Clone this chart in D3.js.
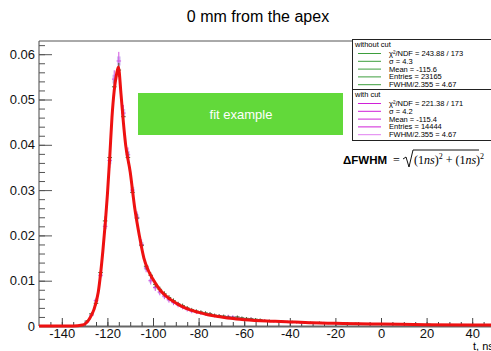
<!DOCTYPE html>
<html>
<head>
<meta charset="utf-8">
<script src="https://cdn.jsdelivr.net/npm/d3@7"></script>
<style>
  body { margin: 0; background: #fff; }
  svg { display: block; font-family: "Liberation Sans", Arial, sans-serif; }
</style>
</head>
<body>
<div id="chart"></div>
<script>
// 1. Data
// bin centers, 2 ns wide bins
const binCenters = d3.range(-149, 50, 2);

// without cut (density per ns)
const withoutCut = [
  0, 0, 0, 0, 0, 0, 0, 0, 0,
  0.0003, 0.0011, 0.0027, 0.0050, 0.0118, 0.0232, 0.0372, 0.0528, 0.0565, 0.0462,
  0.0372, 0.0295, 0.0238, 0.0178, 0.0132, 0.0112, 0.0092, 0.0081, 0.0071, 0.0063,
  0.0056, 0.0049, 0.0045, 0.0040, 0.0036, 0.0033, 0.0031, 0.0029, 0.0027, 0.0024,
  0.0023, 0.0022, 0.0020, 0.0019, 0.0020, 0.0018, 0.0017, 0.0016, 0.0015, 0.0014,
  0.0012, 0.0012, 0.0011, 0.0010, 0.0010, 0.0009, 0.0010, 0.0008, 0.0009, 0.0007,
  0.0008, 0.0007, 0.0008, 0.0006, 0.0007, 0.0006, 0.0007, 0.0005, 0.0006, 0.0005,
  0.0006, 0.0004, 0.0005, 0.0005, 0.0004, 0.0005, 0.0004, 0.0004, 0.0005, 0.0003,
  0.0004, 0.0004, 0.0003, 0.0004, 0.0003, 0.0003, 0.0004, 0.0003, 0.0002, 0.0003,
  0.0003, 0.0002, 0.0003, 0.0002, 0.0002, 0.0003, 0.0002, 0.0002, 0.0002, 0.0002,
  0.0002
];

// with cut
const withCut = [
  0, 0, 0, 0, 0, 0, 0, 0, 0,
  0.0002, 0.0009, 0.0024, 0.0056, 0.0112, 0.0220, 0.0365, 0.0545, 0.0585, 0.0470,
  0.0378, 0.0300, 0.0240, 0.0180, 0.0128, 0.0100, 0.0085, 0.0075, 0.0066, 0.0058,
  0.0052, 0.0047, 0.0042, 0.0037, 0.0033, 0.0031, 0.0029, 0.0027, 0.0026, 0.0023,
  0.0022, 0.0021, 0.0021, 0.0020, 0.0019, 0.0017, 0.0016, 0.0016, 0.0014, 0.0013,
  0.0012, 0.0011, 0.0010, 0.0010, 0.0009, 0.0009, 0.0008, 0.0008, 0.0007, 0.0008,
  0.0007, 0.0006, 0.0007, 0.0007, 0.0006, 0.0006, 0.0005, 0.0006, 0.0005, 0.0005,
  0.0004, 0.0005, 0.0004, 0.0005, 0.0004, 0.0004, 0.0004, 0.0003, 0.0004, 0.0004,
  0.0003, 0.0003, 0.0004, 0.0003, 0.0003, 0.0002, 0.0003, 0.0003, 0.0002, 0.0002,
  0.0003, 0.0002, 0.0002, 0.0002, 0.0003, 0.0002, 0.0002, 0.0001, 0.0002, 0.0002,
  0.0002
];

// fit curve samples
const fitT = [-150, -135, -131, -128, -126, -124, -122, -120, -119, -118, -117, -116,
  -115.2, -114, -113, -112, -110, -108, -106, -104, -102, -100, -97, -94, -91, -88,
  -84, -80, -76, -70, -66, -60, -50, -44, -30, -20, -10, 0, 20, 40, 50];
const fitV = [0, 0, 0.0002, 0.0015, 0.0035, 0.0075, 0.0165, 0.029, 0.037, 0.046, 0.052,
  0.0555, 0.0572, 0.051, 0.045, 0.040, 0.034, 0.026, 0.020, 0.0150, 0.0122, 0.0103,
  0.0080, 0.0065, 0.0054, 0.0045, 0.0036, 0.0030, 0.0025, 0.0020, 0.0017, 0.0014,
  0.0011, 0.0010, 0.0007, 0.0006, 0.0005, 0.00044, 0.0003, 0.00022, 0.0002];

const legendWithout = ["χ²/NDF = 243.88 / 173", "σ = 4.3", "Mean = -115.6", "Entries = 23165", "FWHM/2.355 = 4.67"];
const legendWith = ["χ²/NDF = 221.38 / 171", "σ = 4.2", "Mean = -115.4", "Entries = 14444", "FWHM/2.355 = 4.67"];
const entriesWithout = 23165;
const entriesWith = 14444;

const xTicks = [-140, -120, -100, -80, -60, -40, -20, 0, 20, 40];
const yTicks = [0, 0.01, 0.02, 0.03, 0.04, 0.05, 0.06];

// 2. Dimensions
const dims = { width: 491, height: 351, left: 39, top: 41, right: 495, bottom: 326 };

// 3. Container
const svg = d3.select("#chart").append("svg")
  .attr("width", dims.width).attr("height", dims.height);

// 4. Scales
const xScale = d3.scaleLinear().domain([-150, 50]).range([dims.left, dims.right]);
const yScale = d3.scaleLinear().domain([0, 0.01]).range([dims.bottom, dims.bottom - 45.3]);

// title
svg.append("text").attr("x", 258).attr("y", 22).attr("text-anchor", "middle")
  .style("font-size", "16px").text("0 mm from the apex");

// frame top
svg.append("line").attr("x1", dims.left).attr("x2", dims.right)
  .attr("y1", dims.top).attr("y2", dims.top).attr("stroke", "#555");

// 5. Axes
const yAxis = svg.append("g").attr("transform", `translate(${dims.left},0)`)
  .call(d3.axisLeft(yScale).tickValues(yTicks).tickSizeInner(-13).tickSizeOuter(0)
    .tickPadding(4).tickFormat((d) => (d === 0 ? "0" : d3.format(".2f")(d))));
yAxis.select(".domain").attr("d", `M0,${dims.top}V${dims.bottom}`).attr("stroke", "#444");
yAxis.selectAll(".tick line").attr("stroke", "#555");
yAxis.selectAll("text").style("font-size", "13px").attr("fill", "#111");

svg.append("g").attr("transform", `translate(${dims.left},0)`)
  .call(d3.axisLeft(yScale).tickValues(d3.range(0, 0.0621, 0.002)).tickSizeInner(-6)
    .tickSizeOuter(0).tickFormat(""))
  .call((g) => g.select(".domain").remove())
  .selectAll("line").attr("stroke", "#555");

const xAxis = svg.append("g").attr("transform", `translate(0,${dims.bottom})`)
  .call(d3.axisBottom(xScale).tickValues(xTicks).tickSizeInner(-8).tickSizeOuter(0)
    .tickPadding(3).tickFormat((d) => (d < 0 ? "-" + Math.abs(d) : d)));
xAxis.select(".domain").attr("stroke", "#666").attr("stroke-width", 2);
xAxis.selectAll(".tick line").attr("stroke", "#444");
xAxis.selectAll("text").style("font-size", "13px").attr("fill", "#111");

svg.append("g").attr("transform", `translate(0,${dims.bottom})`)
  .call(d3.axisBottom(xScale).tickValues(d3.range(-145, 50, 5)).tickSizeInner(-4)
    .tickSizeOuter(0).tickFormat(""))
  .call((g) => g.select(".domain").remove())
  .selectAll("line").attr("stroke", "#444");

svg.append("text").attr("x", 473).attr("y", 350).style("font-size", "11px").text("t, ns");

// 6. Histograms
function drawHist(values, entries, color, boxFill) {
  const g = svg.append("g");
  const pts = values.map((v, i) => ({ c: binCenters[i], v, e: Math.sqrt(v * entries) / entries }));
  if (boxFill) {
    g.selectAll("rect").data(pts.filter((d) => d.v > 0)).join("rect")
      .attr("x", (d) => xScale(d.c - 0.8))
      .attr("width", xScale(0.8) - xScale(-0.8))
      .attr("y", (d) => yScale(d.v + d.e * 0.5))
      .attr("height", (d) => yScale(d.v - d.e * 0.5) - yScale(d.v + d.e * 0.5))
      .attr("fill", boxFill).attr("opacity", 0.55);
  }
  g.selectAll("line.v").data(pts).join("line").attr("class", "v")
    .attr("x1", (d) => xScale(d.c)).attr("x2", (d) => xScale(d.c))
    .attr("y1", (d) => yScale(d.v - d.e)).attr("y2", (d) => yScale(d.v + d.e))
    .attr("stroke", color).attr("stroke-width", 1);
  g.selectAll("line.h").data(pts).join("line").attr("class", "h")
    .attr("x1", (d) => xScale(d.c - 1)).attr("x2", (d) => xScale(d.c + 1))
    .attr("y1", (d) => yScale(d.v)).attr("y2", (d) => yScale(d.v))
    .attr("stroke", color).attr("stroke-width", 1);
}
drawHist(withCut, entriesWith, "#d050e0", "#b090e8");
drawHist(withoutCut, entriesWithout, "#4f6a2c", null);

// fit curve
const fitData = fitT.map((t, i) => ({ t, v: fitV[i] }));
svg.append("path").datum(fitData)
  .attr("d", d3.line().x((d) => xScale(d.t)).y((d) => yScale(d.v)).curve(d3.curveMonotoneX))
  .attr("fill", "none").attr("stroke", "#ee1111").attr("stroke-width", 3)
  .attr("stroke-linejoin", "round");

// green label box
svg.append("rect").attr("x", 138).attr("y", 93).attr("width", 205).attr("height", 42)
  .attr("fill", "#62d93a");
svg.append("text").attr("x", 241).attr("y", 119).attr("text-anchor", "middle")
  .attr("fill", "#fff").style("font-size", "13px").text("fit example");

// legend
const leg = svg.append("g");
leg.append("rect").attr("x", 352.5).attr("y", 39.5).attr("width", 145).attr("height", 101)
  .attr("fill", "#fff").attr("stroke", "#222");
leg.append("line").attr("x1", 352).attr("x2", 497).attr("y1", 89.5).attr("y2", 89.5).attr("stroke", "#222");
leg.append("text").attr("x", 355).attr("y", 47).style("font-size", "7.5px").text("without cut");
leg.append("text").attr("x", 355).attr("y", 97).style("font-size", "7.5px").text("with cut");
const withoutColors = ["#3d9e3d", "#3d9e3d", "#3d9e3d", "#3d9e3d", "#3d9e3d"];
const withColors = ["#d020d8", "#d020d8", "#d020d8", "#d020d8", "#e080f0"];
legendWithout.forEach((t, i) => {
  const y = 56 + i * 7.8;
  leg.append("line").attr("x1", 358).attr("x2", 381).attr("y1", y - 2.5).attr("y2", y - 2.5)
    .attr("stroke", withoutColors[i]).attr("stroke-width", 1);
  leg.append("text").attr("x", 389).attr("y", y).style("font-size", "7.5px").text(t);
});
legendWith.forEach((t, i) => {
  const y = 106 + i * 7.8;
  leg.append("line").attr("x1", 358).attr("x2", 381).attr("y1", y - 2.5).attr("y2", y - 2.5)
    .attr("stroke", withColors[i]).attr("stroke-width", 1);
  leg.append("text").attr("x", 389).attr("y", y).style("font-size", "7.5px").text(t);
});

// resolution formula
const fx = svg.append("g");
fx.append("text").attr("x", 343).attr("y", 164).style("font-size", "11.5px")
  .style("font-weight", "bold").text("ΔFWHM");
fx.append("text").attr("x", 393).attr("y", 164).style("font-size", "12px")
  .style("font-family", "Liberation Serif, serif").text("=");
fx.append("path").attr("d", "M403,159 L406,157 L409,167 L413,150 L479,150")
  .attr("fill", "none").attr("stroke", "#111").attr("stroke-width", 1);
fx.append("text").attr("x", 414).attr("y", 164).style("font-size", "12px")
  .style("font-family", "Liberation Serif, serif")
  .html('(1<tspan font-style="italic">ns</tspan>)<tspan dy="-5" font-size="8">2</tspan><tspan dy="5"> + (1</tspan><tspan font-style="italic">ns</tspan>)<tspan dy="-5" font-size="8">2</tspan>');
</script>
</body>
</html>
